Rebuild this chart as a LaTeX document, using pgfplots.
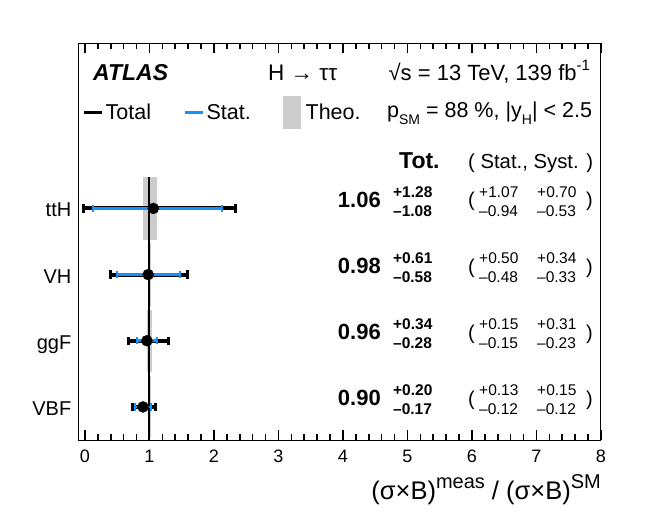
\documentclass[border=0pt]{standalone}
\usepackage{fontspec}
\setmainfont{Liberation Sans}
\usepackage{pgfplots}
\pgfplotsset{compat=1.18}
\definecolor{statblue}{RGB}{20,145,250}
\definecolor{theogray}{RGB}{204,204,204}
\newcommand{\fs}[1]{\fontsize{#1}{#1}\selectfont}
\newcommand{\sups}[2][15]{\raisebox{0.42em}{\fs{#1}#2}}
\newcommand{\subs}[1]{\raisebox{-0.3em}{\fs{14}#1}}
\tikzset{txtw/.style={inner sep=0pt, anchor=base west}, txte/.style={inner sep=0pt, anchor=base east}}
\newcommand{\tabrow}[7]{%
  \node[txte, font=\bfseries\fs{22}, yshift=1pt] at (axis cs:4.589,#1) {#2};
  \node[txtw, font=\bfseries\fs{15.5}, yshift=11pt] at (axis cs:4.775,#1) {+#3};
  \node[txtw, font=\bfseries\fs{15.5}, yshift=-8pt] at (axis cs:4.775,#1) {–#4};
  \node[txtw, font=\fs{20}, yshift=1.5pt] at (axis cs:5.938,#1) {(};
  \node[txtw, font=\fs{15.5}, yshift=11pt] at (axis cs:6.109,#1) {+#5};
  \node[txtw, font=\fs{15.5}, yshift=-8pt] at (axis cs:6.109,#1) {–#6};
  \node[txtw, font=\fs{15.5}, yshift=11pt] at (axis cs:7.008,#1) {+#7};
}
\newcommand{\tabrowb}[2]{%
  \node[txtw, font=\fs{15.5}, yshift=-8pt] at (axis cs:7.008,#1) {–#2};
  \node[txte, font=\fs{20}, yshift=1.5pt] at (axis cs:7.876,#1) {)};
}
\begin{document}
\begin{tikzpicture}
\path (-78.5pt,-83pt) rectangle (570.5pt,440pt);
\begin{axis}[
  scale only axis, width=522.5pt, height=397pt,
  xmin=-0.1, xmax=8, ymin=0.5, ymax=6.5,
  xtick={0,1,2,3,4,5,6,7,8}, xticklabels={0,1,2,3,4,5,6,7,8},
  minor x tick num=4,
  ytick={1,2,3,4}, yticklabels={VBF,ggF,VH,ttH},
  tick align=inside,
  major tick length=10pt, minor tick length=6pt,
  tick style={black, line width=1.6pt},
  major y tick style={draw=none},
  axis line style={line width=1pt},
  axis on top,
  xticklabel style={font=\fs{18}, anchor=base, yshift=-22pt, inner sep=0pt},
  yticklabel style={font=\fs{20}, anchor=base east, inner sep=0pt, xshift=-7pt, yshift=-8.5pt},
  xlabel={(σ×B)\sups[20]{meas} / (σ×B)\sups[20]{SM}},
  xlabel style={at={(rel axis cs:1,0)}, anchor=base east, yshift=-59pt, inner sep=0pt, font=\fs{25.5}},
  legend columns=3,
  legend cell align=left,
  legend style={draw=none, fill=none, at={(axis cs:-0.047,5.45)}, anchor=west, inner sep=0pt,
    font=\fs{21.5}, /tikz/every even column/.append style={column sep=30.5pt}},
]
% theory boxes
\addplot[fill=theogray, draw=none, forget plot] coordinates {(0.90,3.53) (1.12,3.53) (1.12,4.47) (0.90,4.47)} -- cycle;
\addplot[fill=theogray, draw=none, forget plot] coordinates {(0.97,2.53) (1.03,2.53) (1.03,3.47) (0.97,3.47)} -- cycle;
\addplot[fill=theogray, draw=none, forget plot] coordinates {(0.955,1.53) (1.045,1.53) (1.045,2.47) (0.955,2.47)} -- cycle;
\addplot[fill=theogray, draw=none, forget plot] coordinates {(0.98,0.53) (1.02,0.53) (1.02,1.47) (0.98,1.47)} -- cycle;
% SM line
\addplot[black, line width=2pt, forget plot] coordinates {(1,0.5) (1,4.47)};
% total uncertainty
\addplot[only marks, mark=none, black, forget plot,
  error bars/.cd, x dir=both, x explicit, error mark=|,
  error bar style={line width=4pt, black},
  error mark options={black, line width=3pt, mark size=4.2pt}]
  coordinates {
  (1.06,4) += (1.28,0) -= (1.08,0)
  (0.98,3) += (0.61,0) -= (0.58,0)
  (0.96,2) += (0.34,0) -= (0.28,0)
  (0.90,1) += (0.20,0) -= (0.17,0)
  };
% stat uncertainty
\addplot[only marks, mark=none, statblue, forget plot,
  error bars/.cd, x dir=both, x explicit, error mark=|,
  error bar style={line width=2.8pt, statblue},
  error mark options={statblue, line width=2pt, mark size=3.7pt}]
  coordinates {
  (1.06,4) += (1.07,0) -= (0.94,0)
  (0.98,3) += (0.50,0) -= (0.48,0)
  (0.96,2) += (0.15,0) -= (0.15,0)
  (0.90,1) += (0.13,0) -= (0.12,0)
  };
% central values
\addplot[only marks, mark=*, mark size=5.5pt, black, forget plot]
  coordinates {(1.06,4) (0.98,3) (0.96,2) (0.90,1)};
% legend
\addlegendimage{legend image code/.code={\draw[black, line width=3.5pt] (0pt,0pt) -- (18pt,0pt);}}
\addlegendentry{Total}
\addlegendimage{legend image code/.code={\draw[statblue, line width=3pt] (0pt,0pt) -- (18pt,0pt);}}
\addlegendentry{Stat.}
\addlegendimage{legend image code/.code={\fill[theogray] (0pt,-16pt) rectangle (17pt,16pt);}}
\addlegendentry{\hspace{3pt}Theo.}
% header texts
\node[txtw, font=\bfseries\itshape\fs{23}] at (axis cs:0.124,5.94) {ATLAS};
\node[txtw, font=\fs{22.5}] at (axis cs:2.837,5.94) {H → ττ};
\node[txtw, font=\fs{22}] at (axis cs:4.705,5.94) {√s = 13 TeV, 139 fb\sups{-1}};
\node[txtw, font=\fs{21.5}] at (axis cs:4.682,5.37) {p\subs{SM} = 88 \%, |y\subs{H}| < 2.5};
% table
\node[txtw, font=\bfseries\fs{23}] at (axis cs:4.868,4.61) {Tot.};
\node[txtw, font=\fs{20.3}] at (axis cs:5.938,4.61) {( Stat., Syst. )};
\tabrow{4}{1.06}{1.28}{1.08}{1.07}{0.94}{0.70}\tabrowb{4}{0.53}
\tabrow{3}{0.98}{0.61}{0.58}{0.50}{0.48}{0.34}\tabrowb{3}{0.33}
\tabrow{2}{0.96}{0.34}{0.28}{0.15}{0.15}{0.31}\tabrowb{2}{0.23}
\tabrow{1}{0.90}{0.20}{0.17}{0.13}{0.12}{0.15}\tabrowb{1}{0.12}
\end{axis}
\end{tikzpicture}
\end{document}
